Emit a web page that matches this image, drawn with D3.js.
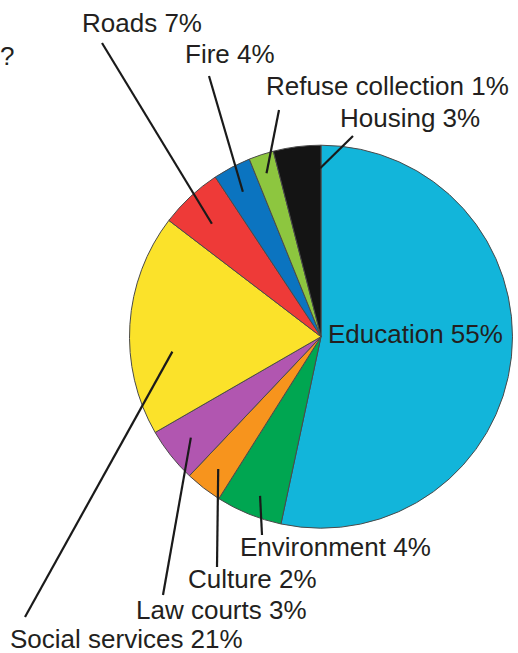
<!DOCTYPE html>
<html>
<head>
    <meta charset="utf-8" />
    <title>Spending pie</title>
    <script src="https://d3js.org/d3.v7.min.js"></script>
    <style>
      body { margin: 0; background: #fff; }
      text {
        font-family: 'Liberation Sans', Arial, Helvetica, sans-serif;
        font-size: 26px;
        fill: #231f20;
      }
    </style>
</head>
<body>
    <svg id="chart" width="518" height="653"></svg>
    <script>
      // categories, clockwise from 12 o'clock
      var categories = ["Education", "Environment", "Culture", "Law courts",
                        "Social services", "Roads", "Fire", "Refuse collection", "Housing"];
      // percentages printed on the labels
      var labelPercents = [55, 4, 2, 3, 21, 7, 4, 1, 3];
      // slice sizes as actually drawn in the picture (% of circle)
      var sliceShares = [53.3, 5.6, 3.1, 4.6, 18.7, 5.3, 3.2, 2.1, 4.0];
      var colors = ["#12b5da", "#00a651", "#f7941d", "#b156b0", "#fbe22a",
                    "#ee3a38", "#0b74c0", "#8dc63f", "#141414"];

      // label layout: where the leader meets the slice (fraction of slice angle, fraction of radius),
      // outer end of leader, text start / baseline
      var labelLayout = [
        { at: null,          end: null,          tx: 328, ty: 343 },
        { at: [0.44, 0.89],  end: [262, 535],    tx: 240, ty: 556 },
        { at: [0.50, 0.875], end: [217, 567],    tx: 188, ty: 588 },
        { at: [0.53, 0.86],  end: [163, 595],    tx: 136, ty: 619 },
        { at: [0.36, 0.78],  end: [25, 617],     tx: 10,  ty: 648 },
        { at: [0.45, 0.82],  end: [102, 43],     tx: 82,  ty: 32 },
        { at: [0.45, 0.86],  end: [209, 76],     tx: 185, ty: 63 },
        { at: [0.47, 0.90],  end: [279, 110],    tx: 266, ty: 95 },
        { at: [0.98, 0.88],  end: [353, 136],    tx: 340, ty: 127 }
      ];

      var cx = 321, cy = 336.7, radius = 191.5;
      var svg = d3.select("#chart");

      var slices = categories.map(function(c, i) {
        return { name: c, share: sliceShares[i], pct: labelPercents[i], color: colors[i], layout: labelLayout[i] };
      });

      var pie = d3.pie()
        .sort(null)
        .value(function(d) { return d.share; });

      var arc = d3.arc()
        .innerRadius(0)
        .outerRadius(radius);

      var arcs = pie(slices);

      var g = svg.append("g")
        .attr("transform", "translate(" + cx + "," + cy + ")");

      g.selectAll("path")
        .data(arcs)
        .enter().append("path")
        .attr("d", arc)
        .attr("fill", function(d) { return d.data.color; })
        .attr("stroke", "#4a4a4a")
        .attr("stroke-width", 1);

      // leader lines
      var withLeader = arcs.filter(function(d) { return d.data.layout.at; });
      g.selectAll("line.leader")
        .data(withLeader)
        .enter().append("line")
        .attr("class", "leader")
        .attr("x1", function(d) {
          var a = d.startAngle + (d.endAngle - d.startAngle) * d.data.layout.at[0];
          return Math.sin(a) * radius * d.data.layout.at[1];
        })
        .attr("y1", function(d) {
          var a = d.startAngle + (d.endAngle - d.startAngle) * d.data.layout.at[0];
          return -Math.cos(a) * radius * d.data.layout.at[1];
        })
        .attr("x2", function(d) { return d.data.layout.end[0] - cx; })
        .attr("y2", function(d) { return d.data.layout.end[1] - cy; })
        .attr("stroke", "#1a1a1a")
        .attr("stroke-width", 2.2);

      // labels
      svg.selectAll("text.label")
        .data(slices)
        .enter().append("text")
        .attr("class", "label")
        .attr("x", function(d) { return d.layout.tx; })
        .attr("y", function(d) { return d.layout.ty; })
        .text(function(d) { return d.name + " " + d.pct + "%"; });

      // stray question mark at the left edge
      svg.append("text")
        .attr("x", 0)
        .attr("y", 65)
        .text("?");
    </script>
</body>
</html>
